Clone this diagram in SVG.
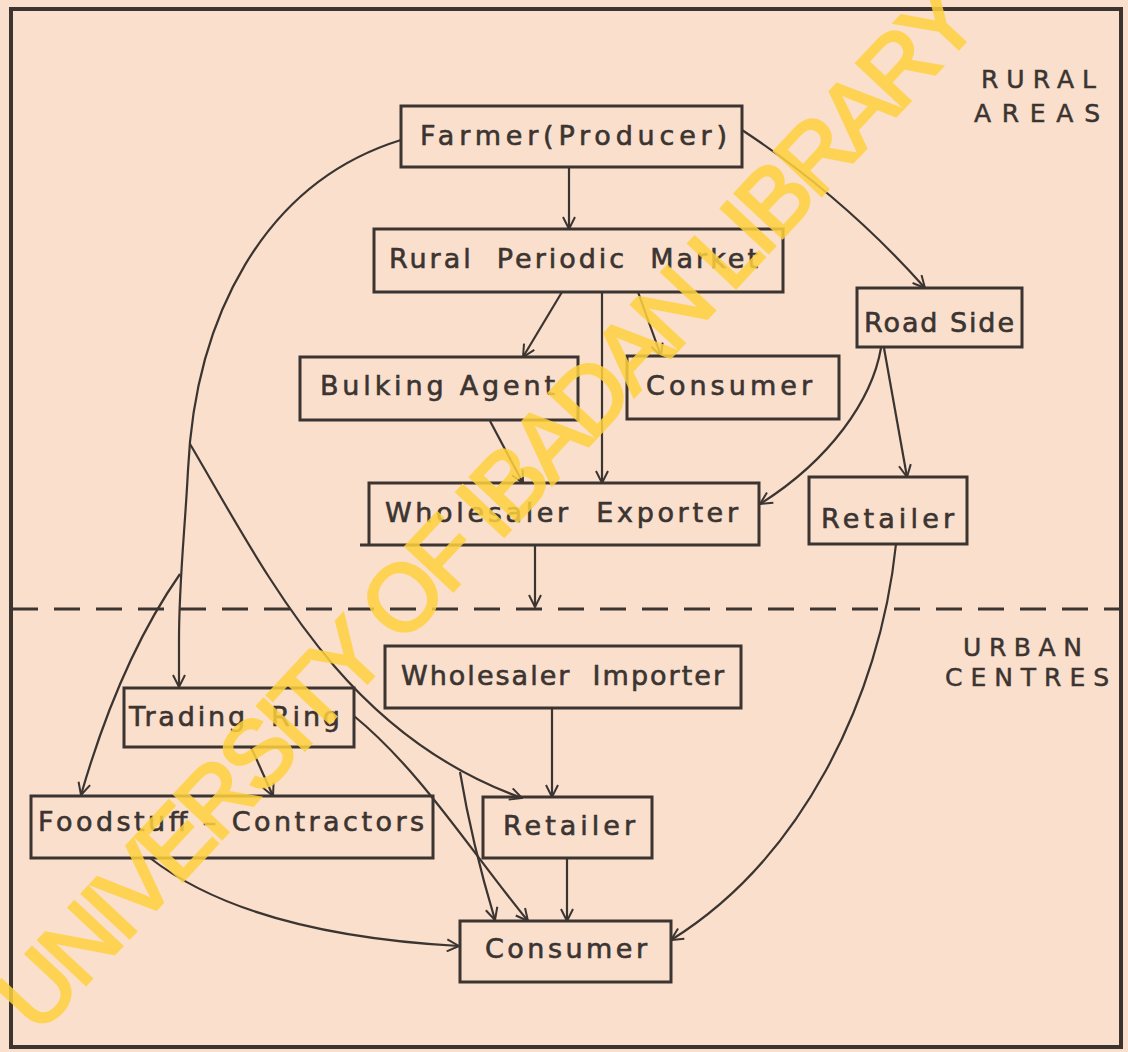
<svg xmlns="http://www.w3.org/2000/svg" width="1128" height="1052" viewBox="0 0 1128 1052">
<style>
.bg{fill:#f9dfcc}
.box{fill:none;stroke:#3b3431;stroke-width:3}
.lbl{font-family:"DejaVu Sans","Liberation Sans",sans-serif;font-size:27px;fill:#3b3431;stroke:#3b3431;stroke-width:0.6}
.zone{font-family:"DejaVu Sans","Liberation Sans",sans-serif;font-size:25px;fill:#3b3431;stroke:#3b3431;stroke-width:0.5}
.con{fill:none;stroke:#3b3431;stroke-width:2.2}
.arr{marker-end:url(#arr)}
.wm{font-family:"Liberation Sans","DejaVu Sans",sans-serif;font-size:94px;fill:#ffd23f;stroke:#ffd23f;stroke-width:3;opacity:0.85}
</style>
<defs>
<marker id="arr" viewBox="0 0 14 14" refX="13" refY="7" markerWidth="14" markerHeight="14" markerUnits="userSpaceOnUse" orient="auto">
<path d="M1,1 L13,7 L1,13" fill="none" stroke="#3b3431" stroke-width="2"/>
</marker>
</defs>
<rect class="bg" x="0" y="0" width="1128" height="1052"/>
<rect x="11" y="9" width="1110" height="1038" fill="none" stroke="#3b3431" stroke-width="4"/>
<line x1="12" y1="609" x2="1120" y2="609" stroke="#3b3431" stroke-width="3" stroke-dasharray="26 16"/>

<g id="zone-rural">
<text class="zone" x="981" y="88" textLength="115" lengthAdjust="spacing">RURAL</text>
<text class="zone" x="974" y="122" textLength="126" lengthAdjust="spacing">AREAS</text>
</g>
<g id="zone-urban">
<text class="zone" x="963" y="656" textLength="119" lengthAdjust="spacing">URBAN</text>
<text class="zone" x="945" y="686" textLength="164" lengthAdjust="spacing">CENTRES</text>
</g>

<g id="connectors">
<path class="con arr" d="M569,167 L569,229"/>
<path class="con arr" d="M742,130 Q844,197 925,288"/>
<path class="con arr" d="M562,292 L523,357"/>
<path class="con arr" d="M638,292 L661,356"/>
<path class="con arr" d="M602,292 L602,483"/>
<path class="con arr" d="M490,421 L523,483"/>
<path class="con arr" d="M881,348 C872,400 830,460 760,504"/>
<path class="con arr" d="M884,348 L907,477"/>
<path class="con arr" d="M535,546 L535,607"/>
<path class="con arr" d="M401,140 C262,183 195,320 188,470 C185,530 179,580 179,640 L179,687"/>
<path class="con arr" d="M180,574 Q120,660 81,795"/>
<path class="con arr" d="M190,444 C270,580 345,735 522,798"/>
<path class="con arr" d="M460,772 C468,820 480,870 495,920"/>
<path class="con arr" d="M354,716 C420,770 470,850 528,921"/>
<path class="con arr" d="M251,747 L273,796"/>
<path class="con arr" d="M150,858 C230,920 350,940 459,946"/>
<path class="con arr" d="M552,708 L552,797"/>
<path class="con arr" d="M567,858 L567,921"/>
<path class="con arr" d="M896,544 C880,700 800,860 671,940"/>
</g>

<g id="node-farmer">
<rect class="box" x="401" y="106" width="341" height="61"/>
<text class="lbl" x="420" y="145" textLength="307" lengthAdjust="spacing">Farmer(Producer)</text>
</g>
<g id="node-rural-periodic-market">
<rect class="box" x="374" y="229" width="409" height="63"/>
<text class="lbl" x="389" y="268" textLength="369" lengthAdjust="spacing">Rural&#160; Periodic&#160; Market</text>
</g>
<g id="node-road-side">
<rect class="box" x="857" y="288" width="165" height="59"/>
<text class="lbl" x="864" y="332" textLength="150" lengthAdjust="spacing">Road Side</text>
</g>
<g id="node-bulking-agent">
<rect class="box" x="300" y="357" width="278" height="63"/>
<text class="lbl" x="320" y="395" textLength="235" lengthAdjust="spacing">Bulking Agent</text>
</g>
<g id="node-consumer-rural">
<rect class="box" x="627" y="356" width="212" height="63"/>
<text class="lbl" x="646" y="395" textLength="166" lengthAdjust="spacing">Consumer</text>
</g>
<g id="node-wholesaler-exporter">
<path class="box" d="M360,545 H759 V483 H369 V545"/>
<text class="lbl" x="385" y="522" textLength="353" lengthAdjust="spacing">Wholesaler&#160; Exporter</text>
</g>
<g id="node-retailer-rural">
<rect class="box" x="809" y="477" width="158" height="67"/>
<text class="lbl" x="821" y="528" textLength="133" lengthAdjust="spacing">Retailer</text>
</g>
<g id="node-wholesaler-importer">
<rect class="box" x="385" y="646" width="356" height="62"/>
<text class="lbl" x="401" y="685" textLength="323" lengthAdjust="spacing">Wholesaler&#160; Importer</text>
</g>
<g id="node-trading-ring">
<rect class="box" x="124" y="688" width="230" height="59"/>
<text class="lbl" x="129" y="726" textLength="211" lengthAdjust="spacing">Trading&#160; Ring</text>
</g>
<g id="node-foodstuff-contractors">
<rect class="box" x="31" y="796" width="402" height="62"/>
<text class="lbl" x="38" y="831" textLength="386" lengthAdjust="spacing">Foodstuff – Contractors</text>
</g>
<g id="node-retailer-urban">
<rect class="box" x="483" y="797" width="169" height="61"/>
<text class="lbl" x="503" y="835" textLength="132" lengthAdjust="spacing">Retailer</text>
</g>
<g id="node-consumer-urban">
<rect class="box" x="460" y="921" width="211" height="61"/>
<text class="lbl" x="485" y="958" textLength="162" lengthAdjust="spacing">Consumer</text>
</g>

<text class="wm" transform="translate(38,1036) rotate(-47)" textLength="1386" lengthAdjust="spacing">UNIVERSITY OF IBADAN LIBRARY</text>
</svg>
